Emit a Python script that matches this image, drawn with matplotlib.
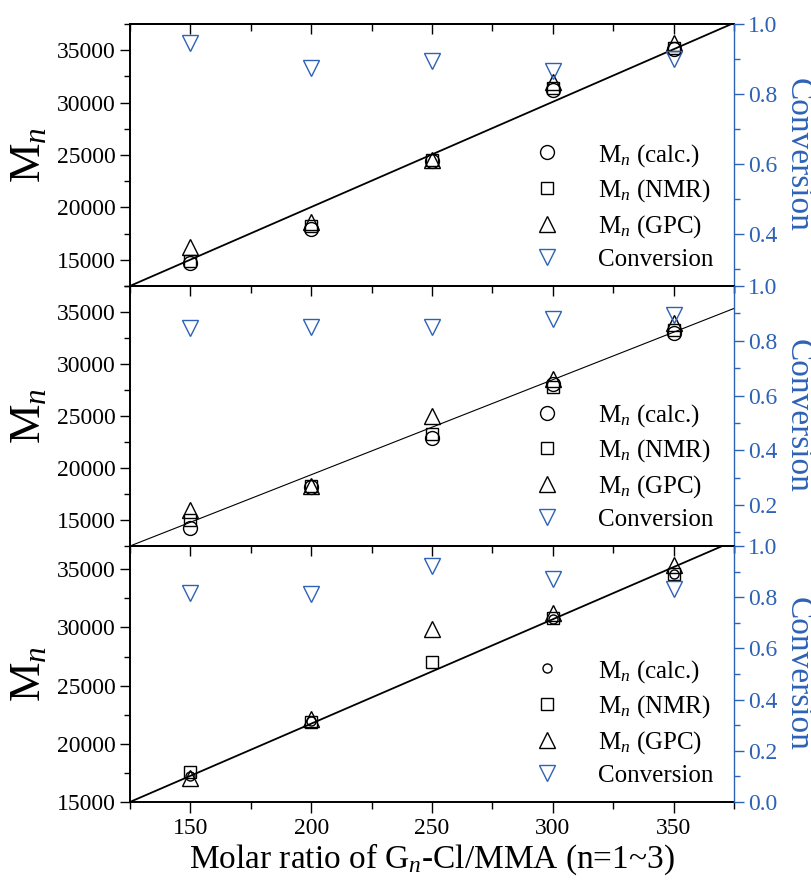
import numpy as np
import matplotlib
matplotlib.use("Agg")
import matplotlib.pyplot as plt
from matplotlib.ticker import MultipleLocator, FormatStrFormatter, NullFormatter

plt.rcParams['font.family'] = ['Liberation Serif', 'DejaVu Serif']
plt.rcParams['mathtext.fontset'] = 'custom'
plt.rcParams['mathtext.rm'] = 'Liberation Serif'
plt.rcParams['mathtext.it'] = 'Liberation Serif:italic'

# data
ratio = [150, 200, 250, 300, 350]

mn_calc_1 = [14700, 17900, 24400, 31200, 35100]
mn_nmr_1 = [14850, 18200, 24500, 31400, 35200]
mn_gpc_1 = [16200, 18650, 24500, 32000, 35700]
conv_1 = [0.945, 0.875, 0.895, 0.866, 0.90]

mn_calc_2 = [14270, 18200, 22900, 28100, 33020]
mn_nmr_2 = [14970, 18300, 23250, 27800, 33270]
mn_gpc_2 = [15930, 18270, 25000, 28560, 33980]
conv_2 = [0.846, 0.85, 0.852, 0.879, 0.895]

mn_calc_3 = [17200, 22000, np.nan, 30700, 34600]
mn_nmr_3 = [17550, 21850, 27050, 30800, 34600]
mn_gpc_3 = [17100, 22100, 29900, 31200, 35400]
conv_3 = [0.818, 0.812, 0.92, 0.87, 0.83]

fit_x = [125, 375]
fit_1 = [12500, 37600]
fit_2 = [12500, 35350]
fit_3 = [15000, 37430]

blue = '#2d62b6'

panels = [
    dict(calc=mn_calc_1, nmr=mn_nmr_1, gpc=mn_gpc_1, conv=conv_1, fit=fit_1,
         ylim=(12500, 37500), rlim=(0.25, 1.0), lw=1.3, csize=10),
    dict(calc=mn_calc_2, nmr=mn_nmr_2, gpc=mn_gpc_2, conv=conv_2, fit=fit_2,
         ylim=(12500, 37500), rlim=(0.05, 1.0), lw=0.8, csize=10),
    dict(calc=mn_calc_3, nmr=mn_nmr_3, gpc=mn_gpc_3, conv=conv_3, fit=fit_3,
         ylim=(15000, 37000), rlim=(0.0, 1.0), lw=1.3, csize=6.5),
]

fig = plt.figure(figsize=(8.12, 8.81), dpi=100)
boxes = [(0.160, 0.6754, 0.744, 0.2974),
         (0.160, 0.3802, 0.744, 0.2951),
         (0.160, 0.0897, 0.744, 0.2906)]

for k, (p, box) in enumerate(zip(panels, boxes)):
    ax = fig.add_axes(box)
    ax.plot(fit_x, p['fit'], color='k', lw=p['lw'], zorder=1)
    h1, = ax.plot(ratio, p['calc'], 'o', ms=p['csize'], mfc='none', mec='k', mew=1.0,
                  label='M$_n$ (calc.)')
    h2, = ax.plot(ratio, p['nmr'], 's', ms=9, mfc='none', mec='k', mew=1.0,
                  label='M$_n$ (NMR)')
    h3, = ax.plot(ratio, p['gpc'], '^', ms=11, mfc='none', mec='k', mew=1.0,
                  label='M$_n$ (GPC)')
    ax.set_xlim(125, 375)
    ax.set_ylim(*p['ylim'])
    ax.xaxis.set_major_locator(MultipleLocator(50))
    ax.xaxis.set_minor_locator(MultipleLocator(25))
    ax.yaxis.set_major_locator(MultipleLocator(5000))
    ax.yaxis.set_minor_locator(MultipleLocator(2500))
    ax.tick_params(axis='x', which='both', top=False, bottom=True, direction='out',
                   labelsize=17, width=1.0)
    ax.tick_params(axis='x', which='major', length=8)
    ax.tick_params(axis='x', which='minor', length=5)
    ax.tick_params(axis='y', which='both', direction='out', labelsize=17, width=1.0, pad=3)
    ax.tick_params(axis='y', which='major', length=7)
    ax.tick_params(axis='y', which='minor', length=4)
    for s in ['top', 'bottom', 'left']:
        ax.spines[s].set_linewidth(1.4)
    ax.spines['right'].set_visible(False)
    if k < 2:
        ax.tick_params(axis='x', labelbottom=False)
    else:
        ax.set_xlabel('Molar ratio of G$_n$-Cl/MMA (n=1~3)', fontsize=24, labelpad=2)
    ax.set_ylabel('M$_n$', fontsize=32, labelpad=6)

    # top ticks point inward
    sec = ax.secondary_xaxis('top')
    sec.xaxis.set_major_locator(MultipleLocator(50))
    sec.xaxis.set_minor_locator(MultipleLocator(25))
    sec.xaxis.set_major_formatter(NullFormatter())
    sec.tick_params(axis='x', which='both', direction='in', width=1.0)
    sec.tick_params(axis='x', which='major', length=7)
    sec.tick_params(axis='x', which='minor', length=5)
    sec.spines['top'].set_linewidth(1.4)

    ax2 = ax.twinx()
    h4, = ax2.plot(ratio, p['conv'], 'v', ms=11, mfc='none', mec=blue, mew=1.0,
                   label='Conversion')
    ax2.set_ylim(*p['rlim'])
    ax2.yaxis.set_major_locator(MultipleLocator(0.2))
    ax2.yaxis.set_minor_locator(MultipleLocator(0.1))
    ax2.yaxis.set_major_formatter(FormatStrFormatter('%.1f'))
    ax2.tick_params(axis='y', which='both', direction='out', colors=blue,
                    labelsize=17, width=1.0, pad=3)
    ax2.tick_params(axis='y', which='major', length=7)
    ax2.tick_params(axis='y', which='minor', length=4)
    ax2.spines['right'].set_color(blue)
    ax2.spines['right'].set_linewidth(1.0)
    for s in ['top', 'bottom', 'left']:
        ax2.spines[s].set_visible(False)
    ax2.set_ylabel('Conversion', fontsize=24, color=blue, rotation=270, labelpad=26)

    ax2.legend(handles=[h1, h2, h3, h4], loc='lower right',
               bbox_to_anchor=(0.995, -0.01), frameon=False, fontsize=18,
               handletextpad=1.3, labelspacing=0.35, borderpad=0.2,
               handlelength=1.5)

fig.savefig('out.png', dpi=100)
